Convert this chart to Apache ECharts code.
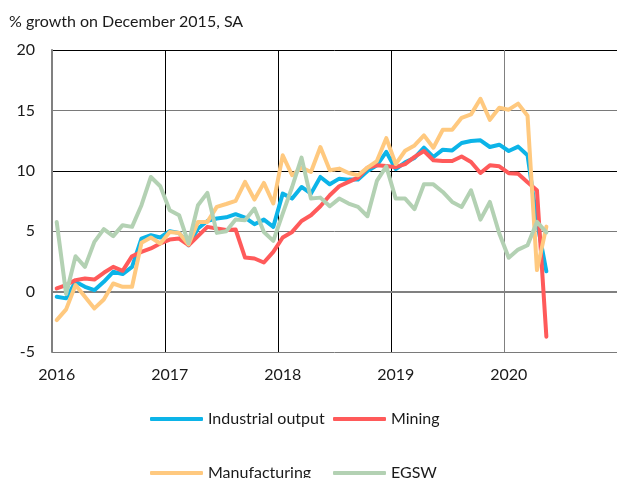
<!DOCTYPE html>
<html>
<head>
<meta charset="utf-8">
<script src="https://cdn.jsdelivr.net/npm/echarts@6/dist/echarts.min.js"></script>
<style>
  html, body { margin: 0; padding: 0; background: #fff; }
  #chart { width: 617px; height: 478px; }
</style>
</head>
<body>
<div id="chart"></div>
<script>
// Year tick labels; axis spans Jan 2016 .. Dec 2020 (monthly categories)
const yearLabels = ['2016', '2017', '2018', '2019', '2020'];
const monthCodes = ['01','02','03','04','05','06','07','08','09','10','11','12'];
const categories = yearLabels.flatMap(y => monthCodes.map(m => y + '-' + m));

// Monthly values, Jan 2016 .. May 2020 (% growth on December 2015, SA)
const industrialOutput = [
  -0.43, -0.56, 0.81, 0.40, 0.12, 0.81, 1.64, 1.45, 2.05, 4.39, 4.67, 4.48,
  5.00, 4.86, 3.84, 5.22, 5.85, 6.05, 6.15, 6.41, 6.13, 5.58, 5.96, 5.36,
  8.11, 7.70, 8.66, 8.11, 9.49, 8.88, 9.35, 9.27, 9.27, 9.98, 10.45, 11.56,
  10.14, 10.70, 11.07, 11.91, 11.14, 11.75, 11.69, 12.30, 12.47, 12.52, 11.97, 12.16,
  11.64, 12.00, 11.28, 5.80, 1.68
];
const mining = [
  0.26, 0.54, 0.95, 1.09, 1.00, 1.56, 2.05, 1.72, 2.93, 3.29, 3.57, 3.98,
  4.31, 4.39, 3.84, 4.59, 5.36, 5.22, 5.10, 5.14, 2.82, 2.74, 2.41, 3.29,
  4.48, 4.94, 5.85, 6.32, 7.07, 7.98, 8.72, 9.08, 9.44, 10.26, 10.45, 10.40,
  10.30, 10.55, 11.15, 11.64, 10.87, 10.81, 10.81, 11.19, 10.73, 9.82, 10.45, 10.37,
  9.80, 9.75, 9.05, 8.39, -3.73
];
const manufacturing = [
  -2.36, -1.47, 0.54, -0.43, -1.39, -0.65, 0.67, 0.40, 0.40, 4.04, 4.48, 3.98,
  4.94, 4.86, 3.90, 5.77, 5.77, 7.01, 7.25, 7.51, 9.08, 7.62, 9.00, 7.29,
  11.28, 9.63, 10.26, 9.90, 11.97, 10.04, 10.18, 9.82, 9.63, 10.26, 10.81, 12.70,
  10.56, 11.66, 12.10, 12.93, 11.91, 13.40, 13.40, 14.39, 14.67, 15.96, 14.22, 15.22,
  15.06, 15.56, 14.55, 1.78, 5.38
];
const egsw = [
  5.77, -0.20, 2.93, 2.05, 4.12, 5.17, 4.59, 5.50, 5.36, 7.15, 9.49, 8.72,
  6.74, 6.32, 4.00, 7.15, 8.17, 4.86, 5.00, 5.96, 5.91, 6.87, 4.94, 4.20,
  6.46, 8.66, 11.09, 7.70, 7.78, 7.07, 7.70, 7.29, 7.01, 6.24, 9.16, 10.37,
  7.70, 7.70, 6.83, 8.88, 8.88, 8.25, 7.42, 7.01, 8.39, 5.96, 7.42, 4.81,
  2.80, 3.48, 3.84, 5.77, 4.90
];

const seriesNames = ['Industrial output', 'Mining', 'Manufacturing', 'EGSW'];
const seriesColors = ['#0cb4e8', '#ff5a5a', '#ffc97f', '#b3d1b3'];
const seriesData = [industrialOutput, mining, manufacturing, egsw];

const FONT = 'Lato, "Noto Sans", sans-serif';
const textColor = '#1a1a1a';

const chart = echarts.init(document.getElementById('chart'), null, { renderer: 'canvas' });

const legendBase = {
  icon: 'roundRect',
  itemWidth: 53,
  itemHeight: 4,
  itemGap: 10,
  textStyle: { fontFamily: FONT, fontSize: 16, color: textColor },
  padding: 0
};

chart.setOption({
  animation: false,
  backgroundColor: '#ffffff',
  color: seriesColors,
  title: {
    text: '% growth on December 2015, SA',
    left: 9,
    top: 14,
    padding: 0,
    textStyle: { fontFamily: FONT, fontSize: 16, fontWeight: 'normal', color: textColor }
  },
  legend: [
    Object.assign({}, legendBase, { data: [seriesNames[0]], left: 150, top: 411 }),
    Object.assign({}, legendBase, { data: [seriesNames[1]], left: 333, top: 411 }),
    Object.assign({}, legendBase, { data: [seriesNames[2]], left: 150, top: 465 }),
    Object.assign({}, legendBase, { data: [seriesNames[3]], left: 333, top: 465 })
  ],
  grid: { left: 52, right: -4, top: 50, bottom: 126, containLabel: false },
  xAxis: {
    type: 'category',
    data: categories,
    boundaryGap: true,
    axisLine: { show: true, lineStyle: { color: '#808080', width: 2 } },
    axisTick: { show: false, interval: 11 },
    axisLabel: {
      interval: 11,
      margin: 15,
      fontFamily: FONT,
      fontSize: 16,
      color: textColor,
      formatter: v => v.slice(0, 4)
    },
    splitLine: {
      show: true,
      interval: 11,
      lineStyle: { color: ['#808080', '#000000', '#000000', '#000000', '#808080', '#808080'], width: 1 }
    }
  },
  yAxis: {
    type: 'value',
    min: -5,
    max: 20,
    interval: 5,
    axisLine: { show: true, lineStyle: { color: '#808080', width: 2 } },
    axisTick: { show: false },
    axisLabel: { margin: 17, fontFamily: FONT, fontSize: 16, color: textColor },
    splitLine: { show: true, lineStyle: { color: ['#7a7a7a', '#000000'], width: 1 } }
  },
  series: seriesNames.map((name, k) => ({
    name: name,
    type: 'line',
    data: seriesData[k],
    symbol: 'none',
    smooth: false,
    lineStyle: { width: 4, color: seriesColors[k], cap: 'round', join: 'round' },
    itemStyle: { color: seriesColors[k] },
    z: 2 + k
  }))
});
</script>
</body>
</html>
